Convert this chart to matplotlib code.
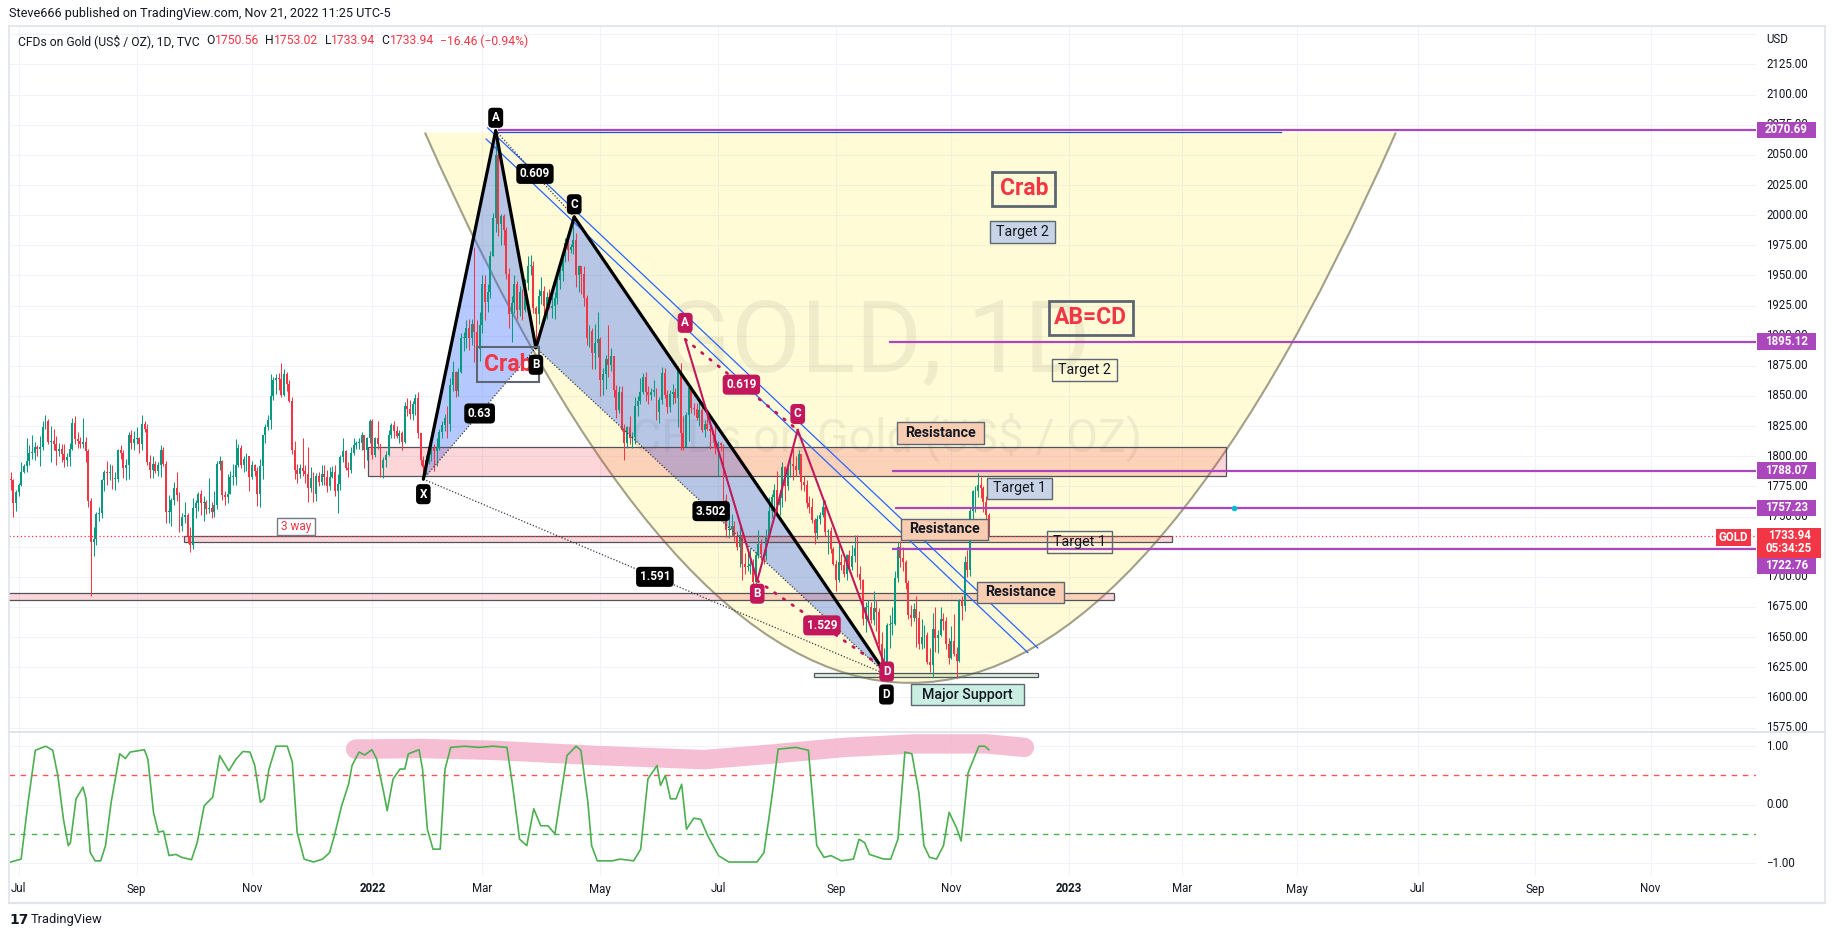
import numpy as np
import pandas as pd
import matplotlib
matplotlib.use("Agg")
import matplotlib.pyplot as plt
from matplotlib.patches import Rectangle, Polygon, PathPatch
from matplotlib.path import Path
from matplotlib.lines import Line2D
from matplotlib.transforms import blended_transform_factory as blend

# ------------------------------------------------------------------ data
# daily bars, 2021-06-28 .. 2022-11-21 (weekdays); bar index 0 = 2021-07-01
first_open = 1781.0
close = [
    1780, 1761, 1770,
    1776, 1787, 1792, 1796, 1803, 1803, 1808, 1806, 1808, 1824, 1829, 1812, 1813, 1810, 1804, 1806, 1802, 1797, 1799, 1806, 1828, 1814,
    1813, 1810, 1812, 1804, 1763, 1729, 1731, 1752, 1753, 1780, 1787, 1786, 1787, 1781, 1781, 1805, 1803, 1790, 1793, 1818, 1811, 1814,
    1815, 1810, 1827, 1823, 1795, 1789, 1794, 1788, 1793, 1805, 1794, 1754, 1754, 1764, 1774, 1768, 1742, 1750, 1751, 1734, 1726, 1757,
    1761, 1769, 1761, 1762, 1756, 1757, 1754, 1760, 1794, 1796, 1768, 1766, 1769, 1783, 1783, 1793, 1807, 1793, 1798, 1800, 1783,
    1793, 1788, 1769, 1792, 1818, 1824, 1830, 1850, 1863, 1865, 1864, 1851, 1868, 1860, 1846, 1805, 1789, 1785, 1790, 1788, 1785, 1774,
    1782, 1769, 1784, 1779, 1785, 1783, 1775, 1783, 1787, 1771, 1777, 1799, 1804, 1790, 1789, 1803, 1809, 1811, 1811, 1818, 1805, 1815, 1829,
    1801, 1815, 1810, 1790, 1797, 1801, 1818, 1826, 1821, 1817, 1819, 1812, 1842, 1839, 1835, 1843, 1848, 1819, 1797, 1791, 1797,
    1801, 1807, 1804, 1807, 1820, 1826, 1832, 1827, 1859, 1870, 1854, 1870, 1898, 1898, 1906, 1898, 1910, 1903, 1889, 1909,
    1943, 1928, 1936, 1966, 1998, 2050, 1993, 1999, 1988, 1951, 1918, 1927, 1943, 1921, 1936, 1921, 1944, 1958, 1958, 1923, 1918, 1933, 1937,
    1925, 1932, 1923, 1925, 1931, 1946, 1954, 1966, 1977, 1971, 1974, 1979, 1950, 1958, 1951, 1931, 1898, 1904, 1886, 1894, 1897,
    1863, 1868, 1881, 1876, 1883, 1855, 1838, 1853, 1822, 1811, 1824, 1815, 1816, 1842, 1846, 1853, 1866, 1853, 1851, 1853, 1855, 1837,
    1847, 1869, 1851, 1841, 1852, 1853, 1848, 1871, 1819, 1808, 1834, 1857, 1840, 1839, 1832, 1838, 1822, 1827, 1823, 1821, 1818, 1807,
    1811, 1809, 1764, 1739, 1740, 1742, 1733, 1725, 1735, 1711, 1708, 1709, 1711, 1696, 1718, 1727, 1719, 1717, 1734, 1755, 1766,
    1772, 1760, 1765, 1791, 1775, 1789, 1794, 1792, 1789, 1802, 1779, 1776, 1761, 1758, 1747, 1736, 1748, 1751, 1758, 1737, 1738, 1723, 1711,
    1697, 1712, 1710, 1702, 1718, 1708, 1717, 1724, 1702, 1697, 1665, 1675, 1675, 1664, 1674, 1671, 1644, 1622, 1629, 1660, 1661, 1661,
    1699, 1725, 1716, 1712, 1695, 1668, 1666, 1673, 1666, 1644, 1650, 1652, 1629, 1627, 1657, 1649, 1652, 1665, 1663, 1644, 1633,
    1647, 1636, 1630, 1681, 1676, 1712, 1706, 1755, 1771, 1771, 1776, 1774, 1762, 1751, 1733.94,
]
high = [
    1787, 1781, 1772,
    1778, 1795, 1794, 1815, 1809, 1818, 1812, 1809, 1817, 1829, 1834, 1831, 1825, 1823, 1817, 1811, 1810, 1810, 1803, 1811, 1832, 1833,
    1820, 1816, 1832, 1816, 1806, 1765, 1741, 1754, 1758, 1781, 1789, 1796, 1794, 1793, 1787, 1806, 1809, 1805, 1798, 1820, 1822, 1821,
    1824, 1816, 1834, 1829, 1827, 1801, 1800, 1796, 1795, 1809, 1808, 1796, 1768, 1765, 1779, 1787, 1770, 1753, 1762, 1753, 1741, 1765,
    1764, 1770, 1772, 1767, 1764, 1782, 1762, 1771, 1796, 1800, 1797, 1771, 1785, 1788, 1794, 1814, 1810, 1809, 1800, 1803, 1800,
    1796, 1794, 1791, 1798, 1818, 1827, 1834, 1868, 1866, 1868, 1869, 1877, 1872, 1870, 1863, 1849, 1813, 1794, 1794, 1815, 1793, 1808,
    1791, 1787, 1786, 1787, 1793, 1793, 1789, 1791, 1792, 1793, 1785, 1801, 1815, 1805, 1795, 1808, 1815, 1813, 1815, 1820, 1812, 1816, 1831,
    1831, 1816, 1829, 1810, 1799, 1804, 1822, 1828, 1829, 1825, 1822, 1821, 1845, 1848, 1847, 1846, 1852, 1853, 1818, 1800, 1801,
    1807, 1810, 1810, 1815, 1823, 1829, 1835, 1842, 1865, 1879, 1871, 1873, 1902, 1903, 1913, 1914, 1914, 1974, 1913, 1920,
    1950, 1950, 1943, 1970, 2002, 2070, 2056, 2001, 2001, 1990, 1956, 1933, 1950, 1945, 1941, 1939, 1947, 1966, 1967, 1962, 1925, 1939, 1949,
    1941, 1936, 1939, 1934, 1936, 1949, 1956, 1970, 1981, 1979, 1976, 1998, 1985, 1959, 1957, 1958, 1934, 1909, 1906, 1910, 1920,
    1899, 1873, 1884, 1909, 1890, 1883, 1859, 1858, 1858, 1827, 1825, 1833, 1820, 1849, 1850, 1865, 1869, 1870, 1858, 1857, 1863, 1857,
    1849, 1874, 1873, 1855, 1855, 1860, 1857, 1875, 1877, 1833, 1837, 1858, 1858, 1844, 1844, 1847, 1845, 1830, 1834, 1829, 1822, 1829,
    1813, 1812, 1810, 1769, 1752, 1752, 1746, 1738, 1745, 1737, 1720, 1723, 1724, 1715, 1721, 1739, 1731, 1723, 1740, 1766, 1769,
    1777, 1788, 1772, 1795, 1792, 1791, 1800, 1807, 1800, 1805, 1801, 1784, 1780, 1767, 1765, 1749, 1751, 1754, 1765, 1764, 1740, 1741, 1725,
    1714, 1727, 1719, 1715, 1719, 1722, 1726, 1735, 1735, 1709, 1698, 1679, 1681, 1679, 1688, 1681, 1674, 1654, 1641, 1662, 1668, 1675,
    1705, 1729, 1730, 1725, 1714, 1697, 1677, 1678, 1684, 1672, 1665, 1660, 1654, 1641, 1670, 1675, 1656, 1675, 1670, 1667, 1649,
    1659, 1669, 1642, 1682, 1684, 1717, 1722, 1758, 1772, 1775, 1786, 1783, 1775, 1767, 1753.02,
]
low = [
    1772, 1750, 1755,
    1767, 1775, 1786, 1787, 1793, 1798, 1797, 1800, 1792, 1805, 1823, 1810, 1795, 1805, 1793, 1800, 1795, 1791, 1792, 1792, 1805, 1810,
    1807, 1807, 1807, 1795, 1758, 1684, 1717, 1726, 1746, 1749, 1771, 1776, 1780, 1773, 1772, 1779, 1798, 1782, 1780, 1781, 1806, 1805,
    1810, 1803, 1805, 1820, 1793, 1782, 1782, 1786, 1784, 1783, 1792, 1745, 1745, 1742, 1760, 1763, 1737, 1738, 1745, 1728, 1721, 1723,
    1749, 1755, 1751, 1746, 1752, 1753, 1749, 1750, 1756, 1789, 1764, 1760, 1761, 1769, 1776, 1776, 1791, 1790, 1787, 1788, 1771,
    1781, 1784, 1759, 1758, 1781, 1811, 1822, 1823, 1847, 1852, 1855, 1849, 1850, 1854, 1845, 1802, 1781, 1778, 1782, 1784, 1778, 1762,
    1770, 1762, 1763, 1775, 1776, 1776, 1770, 1772, 1782, 1767, 1753, 1772, 1795, 1789, 1783, 1786, 1801, 1806, 1806, 1805, 1790, 1797, 1811,
    1798, 1799, 1806, 1783, 1782, 1791, 1800, 1815, 1815, 1815, 1811, 1805, 1811, 1833, 1831, 1830, 1834, 1815, 1793, 1780, 1785,
    1794, 1796, 1788, 1792, 1805, 1815, 1821, 1815, 1821, 1854, 1849, 1850, 1869, 1887, 1890, 1888, 1892, 1878, 1878, 1879,
    1902, 1913, 1920, 1931, 1970, 1986, 1983, 1975, 1975, 1947, 1906, 1895, 1919, 1914, 1916, 1913, 1920, 1938, 1950, 1919, 1890, 1910, 1926,
    1918, 1914, 1922, 1915, 1914, 1926, 1939, 1945, 1961, 1962, 1969, 1968, 1940, 1936, 1935, 1925, 1892, 1891, 1872, 1872, 1882,
    1850, 1851, 1856, 1866, 1871, 1849, 1832, 1836, 1821, 1797, 1807, 1810, 1807, 1810, 1833, 1843, 1852, 1846, 1843, 1847, 1850, 1830,
    1828, 1843, 1848, 1836, 1837, 1843, 1844, 1824, 1805, 1805, 1808, 1813, 1836, 1834, 1830, 1825, 1820, 1816, 1822, 1806, 1812, 1802,
    1784, 1804, 1763, 1733, 1732, 1734, 1730, 1722, 1708, 1697, 1702, 1705, 1702, 1694, 1681, 1716, 1714, 1711, 1714, 1734, 1749,
    1754, 1754, 1751, 1758, 1763, 1772, 1783, 1780, 1784, 1785, 1772, 1771, 1757, 1753, 1745, 1727, 1731, 1744, 1750, 1734, 1719, 1720, 1710,
    1688, 1696, 1706, 1700, 1697, 1705, 1706, 1712, 1700, 1690, 1660, 1654, 1664, 1662, 1660, 1655, 1639, 1621, 1615, 1614, 1641, 1652,
    1660, 1696, 1708, 1705, 1690, 1665, 1659, 1663, 1642, 1640, 1640, 1641, 1628, 1621, 1617, 1638, 1637, 1651, 1656, 1640, 1628,
    1632, 1634, 1616, 1629, 1664, 1672, 1700, 1701, 1747, 1754, 1766, 1765, 1754, 1747, 1733.94,
]

# oscillator (bar index, value)
osc_points = [
    (-3.0, -0.98), (0.9, -0.93), (3.5, 0.04), (6.2, 0.93), (10.1, 1.0), (12.7, 0.93), (14.6, 0.5),
    (16.7, -0.25), (18.5, -0.7), (19.3, -0.65), (21.4, 0.1), (24.0, 0.3), (25.1, 0.1), (26.7, -0.82),
    (28.5, -0.96), (30.6, -0.96), (32.4, -0.7), (34.5, 0.04), (37.7, 0.87), (39.8, 0.79), (41.6, 0.9),
    (46.9, 0.94), (48.2, 0.78), (50.3, -0.13), (52.1, -0.47), (54.0, -0.45), (56.1, -0.87), (58.7, -0.85),
    (60.8, -0.9), (64.5, -0.94), (66.6, -0.65), (69.2, -0.02), (72.4, 0.13), (75.0, 0.84), (78.4, 0.58),
    (81.1, 0.78), (83.7, 0.91), (86.3, 0.9), (88.1, 0.67), (90.2, 0.04), (91.6, 0.1), (93.4, 0.61),
    (96.0, 1.0), (100.2, 1.0), (102.1, 0.73), (103.9, -0.47), (106.5, -0.93), (110.0, -0.98), (113.4, -0.93),
    (116.0, -0.82), (117.8, -0.53), (120.5, -0.02), (123.1, 0.35), (124.4, 0.67), (127.0, 0.9), (129.1, 0.85),
    (131.8, 0.94), (133.6, 0.78), (136.2, 0.21), (137.5, -0.1), (139.7, 0.44), (142.3, 0.61), (144.1, 0.61),
    (145.4, 0.87), (149.4, 0.94), (150.7, 0.61), (152.5, -0.42), (154.6, -0.76), (157.3, -0.76), (159.1, 0.61),
    (161.2, 0.98), (166.5, 1.0), (171.7, 0.98), (177.0, 1.0), (182.2, 0.98), (184.3, 0.33), (186.9, -0.59),
    (189.6, -0.7), (192.2, -0.07), (194.8, -0.36), (197.5, -0.36), (200.1, -0.5), (201.9, 0.04), (204.6, 0.84),
    (208.0, 1.0), (209.8, 0.93), (212.4, 0.04), (213.8, -0.7), (215.9, -0.96), (221.6, -0.96), (224.3, -0.93),
    (229.5, -0.96), (232.1, -0.76), (234.8, 0.44), (238.2, 0.67), (239.5, 0.33), (241.3, 0.5), (243.2, 0.1),
    (245.3, 0.1), (247.4, 0.35), (249.2, -0.42), (251.9, -0.23), (254.5, -0.25), (257.1, -0.53), (261.1, -0.87),
    (265.0, -0.98), (275.5, -0.98), (278.1, -0.82), (280.8, 0.04), (283.4, 0.95), (290.0, 0.98), (294.7, 0.93),
    (297.8, -0.7), (300.5, -0.9), (303.1, -0.87), (307.0, -0.96), (311.5, -0.93), (313.6, -0.59), (315.7, -0.65),
    (317.5, -0.85), (322.8, -0.93), (325.4, -0.93), (328.1, -0.59), (330.7, 0.9), (333.3, 0.87), (335.9, 0.21),
    (337.8, -0.7), (339.9, -0.9), (342.5, -0.93), (345.1, -0.7), (347.2, -0.13), (349.9, -0.39), (351.7, -0.62),
    (354.3, 0.55), (358.3, 1.0), (360.5, 1.0), (362.0, 0.94),
]
brush_x = [125.7, 150.7, 177.0, 216.4, 255.7, 282.0, 308.3, 334.6, 361.0, 375.3]
brush_v = [0.95, 0.96, 0.93, 0.84, 0.77, 0.87, 0.98, 1.04, 1.04, 0.98]

# harmonic XABCD (bar index, price)
harm_lbl = ['X', 'A', 'B', 'C', 'D']
harm_x = [151.0, 178.0, 193.0, 207.3, 323.8]
harm_p = [1781.0, 2070.0, 1890.0, 1998.5, 1619.0]
harm_ratio = ['0.63', '0.609', '3.502', '1.591']      # on X-B, A-C, B-D, X-D
# AB=CD pattern
abcd_lbl = ['A', 'B', 'C', 'D']
abcd_x = [248.7, 275.6, 290.7, 323.9]
abcd_p = [1897.0, 1696.8, 1821.8, 1622.7]
abcd_ratio = ['0.619', '1.529']                          # on A-C, B-D
# parabolic arc: start, control, end
arc_x = [151.6, 332.75, 513.9]
arc_p = [2068.5, 1155.5, 2068.5]
# parallel channel lines
chan_x = [[175.0, 380.3], [174.4, 376.6]]
chan_p = [[2072.4, 1641.0], [2063.2, 1637.1]]
top_line_x = [178.0, 470.9]
top_line_p = 2068.6
# horizontal rays with price labels
levels = [2070.69, 1895.12, 1788.07, 1757.23, 1722.76]
level_start = [179.0, 324.7, 326.0, 326.9, 326.0]
level_tag_p = [2070.69, 1895.12, 1788.07, 1757.23, 1709.0]   # where the scale tag sits
# zones
zone_x0 = [130.5, 61.7, -10.0, 296.9]
zone_x1 = [450.4, 430.2, 408.9, 380.2]
zone_top = [1807.4, 1733.9, 1686.4, 1620.0]
zone_bot = [1783.6, 1728.6, 1681.0, 1616.8]
last_price = 1733.94

# ------------------------------------------------------------------ figure
plt.rcParams['font.family'] = ['Roboto', 'DejaVu Sans']
W, H, DPI = 1834, 939, 100
fig = plt.figure(figsize=(W / DPI, H / DPI), dpi=DPI, facecolor='white')
PL, PR, PT, PB, OB = 9, 1756, 26, 732, 875
XMIN, XMAX = -3.62, 648.3
YMIN, YMAX = 1571.3, 2156.9
OMIN, OMAX = -1.202, 1.243
ax = fig.add_axes([PL / W, 1 - PB / H, (PR - PL) / W, (PB - PT) / H])
ax2 = fig.add_axes([PL / W, 1 - OB / H, (PR - PL) / W, (OB - PB) / H])
for a in (ax, ax2):
    a.set_axis_off()
    a.set_xlim(XMIN, XMAX)
ax.set_ylim(YMIN, YMAX)
ax2.set_ylim(OMIN, OMAX)
SX = (PR - PL) / (XMAX - XMIN)
SY = (PB - PT) / (YMAX - YMIN)
DARK = '#131722'
RED = '#f23645'
GREEN = '#089981'
PURPLE = '#ab47bc'
PINK = '#c2185b'

# time ticks
dates = pd.bdate_range('2021-06-28', '2023-12-29')
bidx = np.arange(len(dates)) - 3
ym = dates.strftime('%Y-%m')
tick_keys = ['2021-07', '2021-09', '2021-11', '2022-01', '2022-03', '2022-05', '2022-07', '2022-09',
             '2022-11', '2023-01', '2023-03', '2023-05', '2023-07', '2023-09', '2023-11']
tick_labels = ['Jul', 'Sep', 'Nov', '2022', 'Mar', 'May', 'Jul', 'Sep', 'Nov', '2023', 'Mar', 'May', 'Jul', 'Sep', 'Nov']
tick_idx = [bidx[np.argmax(ym == k)] for k in tick_keys]

# grid
for p in np.arange(1575, 2151, 25):
    ax.axhline(p, color='#f0f3fa', lw=0.8, zorder=0.1)
for t in tick_idx:
    ax.axvline(t, color='#f0f3fa', lw=0.8, zorder=0.1)
    ax2.axvline(t, color='#f0f3fa', lw=0.8, zorder=0.1)
for v in (1, 0, -1):
    ax2.axhline(v, color='#f0f3fa', lw=0.8, zorder=0.1)

# watermark
ax.text(320.0, 1893.0, 'GOLD, 1D', ha='center', va='center', fontsize=73, color=(0, 0, 0, 0.07), zorder=0.5)
ax.text(324.0, 1815.5, 'CFDs on Gold (US$ / OZ)', ha='center', va='center', fontsize=33.5, color=(0, 0, 0, 0.07),
        zorder=0.5)

# arc
arc_v = [(arc_x[i], arc_p[i]) for i in range(3)]
ax.add_patch(PathPatch(Path(arc_v + [arc_v[0]], [Path.MOVETO, Path.CURVE3, Path.CURVE3, Path.CLOSEPOLY]),
                       fc=(1, 0.92, 0.23, 0.2), ec='none', zorder=1))
ax.add_patch(PathPatch(Path(arc_v, [Path.MOVETO, Path.CURVE3, Path.CURVE3]),
                       fc='none', ec='#a3a088', lw=1.5, zorder=1.2))

# harmonic fills
hp = list(zip(harm_x, harm_p))
blue_fill = (41 / 255, 98 / 255, 1.0, 0.34)
ax.add_patch(Polygon([hp[0], hp[1], hp[2]], closed=True, fc=blue_fill, ec='none', zorder=1.5))
ax.add_patch(Polygon([hp[2], hp[3], hp[4]], closed=True, fc=blue_fill, ec='none', zorder=1.5))

# zones
zfc = [(242 / 255, 54 / 255, 69 / 255, 0.2)] * 3 + [(76 / 255, 175 / 255, 80 / 255, 0.2)]
for i in range(4):
    ax.add_patch(Rectangle((zone_x0[i], zone_bot[i]), zone_x1[i] - zone_x0[i], zone_top[i] - zone_bot[i],
                           fc=zfc[i], ec='#50535e', lw=0.9, zorder=2))

# candles
c = np.array(close, float)
o = np.r_[first_open, c[:-1]]
hi = np.maximum(np.array(high, float), np.maximum(o, c))
lo = np.minimum(np.array(low, float), np.minimum(o, c))
x = np.arange(len(c)) - 3
col = np.where(c >= o, GREEN, RED)
ax.vlines(x, lo, hi, colors=col, lw=0.75, zorder=3)
ax.bar(x, np.maximum(np.abs(c - o), 0.6), bottom=np.minimum(o, c), width=0.72, color=col, lw=0, zorder=3.1)

# current price line
ax.axhline(last_price, color=RED, lw=0.9, ls=(0, (1, 2)), zorder=3.5)

# rays
for lv, st in zip(levels, level_start):
    ax.plot([st, XMAX], [lv, lv], color=PURPLE, lw=1.6, zorder=4, solid_capstyle='butt')
ax.plot(top_line_x, [top_line_p, top_line_p], color='#1f4fc9', lw=0.9, zorder=4)
for cx, cp in zip(chan_x, chan_p):
    ax.plot(cx, cp, color='#2962ff', lw=0.9, zorder=4)

# harmonic lines
for i in range(4):
    ax.plot([harm_x[i], harm_x[i + 1]], [harm_p[i], harm_p[i + 1]], color='black', lw=2.3, zorder=5,
            solid_capstyle='round')
dot_pairs = [(0, 2), (1, 3), (2, 4), (0, 4)]
for (a_, b_), r in zip(dot_pairs, harm_ratio):
    ax.plot([harm_x[a_], harm_x[b_]], [harm_p[a_], harm_p[b_]], color='#3a3a3a', lw=0.9, ls=(0, (1, 1.5)), zorder=4.5)
    ax.text((harm_x[a_] + harm_x[b_]) / 2, (harm_p[a_] + harm_p[b_]) / 2, r, ha='center', va='center',
            color='white', fontweight='bold', fontsize=8.5, zorder=7,
            bbox=dict(boxstyle='round,pad=0.3,rounding_size=0.35', fc='black', ec='none'))

# AB=CD lines
for i in range(3):
    ax.plot([abcd_x[i], abcd_x[i + 1]], [abcd_p[i], abcd_p[i + 1]], color=PINK, lw=1.5, zorder=5)
for (a_, b_), r in zip([(0, 2), (1, 3)], abcd_ratio):
    ax.plot([abcd_x[a_], abcd_x[b_]], [abcd_p[a_], abcd_p[b_]], color=PINK, lw=2.0, ls=(0, (0.6, 3.2)),
            dash_capstyle='round', zorder=4.6)
    ax.text((abcd_x[a_] + abcd_x[b_]) / 2, (abcd_p[a_] + abcd_p[b_]) / 2, r, ha='center', va='center',
            color='white', fontweight='bold', fontsize=8.5, zorder=7,
            bbox=dict(boxstyle='round,pad=0.3,rounding_size=0.35', fc=PINK, ec='none'))


def note(xc, yc, s, w, h, fc, ec, lw, color, fs, weight='normal', z=6):
    ax.add_patch(Rectangle((xc - w / 2 / SX, yc - h / 2 / SY), w / SX, h / SY, fc=fc, ec=ec, lw=lw, zorder=z))
    ax.text(xc, yc, s, ha='center', va='center', color=color, fontsize=fs, fontweight=weight, zorder=z + 0.5)


GRAYE = '#5d6673'
note(182.6, 1876.0, 'Crab', 62, 35, 'none', GRAYE, 1.5, RED, 16.5, 'bold', z=6)
note(103.5, 1741.9, '3 way', 38, 17, 'white', '#787b86', 1.0, RED, 8.5)
note(375.1, 2021.7, 'Crab', 63, 34, 'none', GRAYE, 2.0, RED, 16.5, 'bold')
note(400.1, 1914.9, 'AB=CD', 84, 34, 'none', GRAYE, 2.0, RED, 16.5, 'bold')
note(374.7, 1985.8, 'Target 2', 65, 22, '#c8d4e6', GRAYE, 1.0, DARK, 10.3)
note(397.8, 1871.3, 'Target 2', 65, 22, 'none', GRAYE, 1.0, DARK, 10.3)
note(343.8, 1818.9, 'Resistance', 87, 22, '#f9cdb2', GRAYE, 1.0, DARK, 10.3, 'bold')
note(373.5, 1773.5, 'Target 1', 65, 21, '#c8d4e6', GRAYE, 1.0, DARK, 10.3)
note(345.5, 1739.3, 'Resistance', 87, 21, '#f9cdb2', GRAYE, 1.0, DARK, 10.3, 'bold')
note(395.9, 1728.5, 'Target 1', 65, 22, 'none', GRAYE, 1.0, DARK, 10.3)
note(374.0, 1687.3, 'Resistance', 87, 21, '#f9cdb2', GRAYE, 1.0, DARK, 10.3, 'bold')
note(353.9, 1602.4, 'Major Support', 113, 21, '#cbeee3', GRAYE, 1.0, DARK, 10.3, 'medium')


# point labels
def tag(xv, yv, s, fc, dy_px):
    ax.annotate(s, (xv, yv), xytext=(0, dy_px / 1.389), textcoords='offset points', ha='center', va='center',
                color='white', fontweight='bold', fontsize=8.5, zorder=8, annotation_clip=False,
                bbox=dict(boxstyle='round,pad=0.3,rounding_size=0.35', fc=fc, ec='none'))


for s, xv, yv, dy in zip(abcd_lbl, abcd_x, abcd_p, [16.5, -13, 16, -1.5]):
    tag(xv, yv, s, PINK, dy)
for s, xv, yv, dy in zip(harm_lbl, harm_x, harm_p, [-15, 13, -17, 12.7, -20]):
    tag(xv, yv, s, 'black', dy)

ax.plot([453.5], [1757.5], 'o', ms=3, color='#00bcd4', zorder=6)

# right price scale
tr = blend(ax.transAxes, ax.transData)
AXL = (1766 - PL) / (PR - PL)
for p in range(1575, 2126, 25):
    ax.text(AXL, p, f'{p:.2f}', transform=tr, ha='left', va='center', fontsize=8.3, color=DARK, clip_on=False, zorder=7)
ax.text(AXL, 2145.3, 'USD', transform=tr, ha='left', va='center', fontsize=8.3, color=DARK, clip_on=False)
BW = 59 / (PR - PL)
for lv in level_tag_p:
    ax.add_patch(Rectangle((1.0006, lv - 8.2 / SY), BW, 16.4 / SY, transform=tr, fc=PURPLE, ec='none',
                           clip_on=False, zorder=9))
ax.add_patch(Rectangle((1.0006, last_price - 22 / SY), 64 / (PR - PL), 30 / SY, transform=tr, fc=RED, ec='none',
                       clip_on=False, zorder=9.5))
for lv, lt in zip(levels, level_tag_p):
    ax.text(1.0006 + BW / 2, lt, f'{lv:.2f}', transform=tr, ha='center', va='center', color='white',
            fontweight='bold', fontsize=8.3, clip_on=False, zorder=10)
ax.text(1.0006 + 32 / (PR - PL), last_price + 0.5 / SY, f'{last_price:.2f}', transform=tr, ha='center',
        va='center', color='white', fontweight='bold', fontsize=8.3, clip_on=False, zorder=10)
ax.text(1.0006 + 32 / (PR - PL), last_price - 13 / SY, '05:34:25', transform=tr, ha='center', va='center',
        color='white', fontweight='bold', fontsize=8.3, clip_on=False, zorder=10)
gx0 = (1716 - PL) / (PR - PL)
ax.add_patch(Rectangle((gx0, last_price - 9.6 / SY), 35 / (PR - PL), 16.3 / SY, transform=tr, fc=RED, ec='none',
                       clip_on=False, zorder=9))
ax.text(gx0 + 17.5 / (PR - PL), last_price - 1.4 / SY, 'GOLD', transform=tr, ha='center', va='center', color='white',
        fontweight='bold', fontsize=8.3, clip_on=False, zorder=10)

# oscillator pane
ax2.plot(brush_x, brush_v, color='#f5b3ca', lw=14, alpha=0.85, solid_capstyle='round', solid_joinstyle='round',
         zorder=1)
ax2.axhline(0.5, color='#ff5252', lw=1.0, ls=(0, (4, 4)), zorder=2)
ax2.axhline(-0.5, color='#4caf50', lw=1.0, ls=(0, (4, 4)), zorder=2)
ox = [pt[0] for pt in osc_points]
ov = [pt[1] for pt in osc_points]
ax2.plot(ox, ov, color='#4caf50', lw=1.2, zorder=3)
tr2 = blend(ax2.transAxes, ax2.transData)
for v, s in [(1, '1.00'), (0, '0.00'), (-1, '\u22121.00')]:
    ax2.text(AXL, v, s, transform=tr2, ha='left', va='center', fontsize=8.3, color=DARK, clip_on=False)

# time labels
trx = blend(ax2.transData, ax2.transAxes)
ylab = -(889 - OB) / (OB - PB)
for t, s in zip(tick_idx, tick_labels):
    bold = s.isdigit()
    ax2.text(t, ylab, s, transform=trx, ha='center', va='center', fontsize=8.3, color=DARK,
             fontweight='bold' if bold else 'normal', clip_on=False)


# frame
def fl(x0, y0, x1, y1, color='#e0e3eb', lw=1.2):
    fig.add_artist(Line2D([x0 / W, x1 / W], [1 - y0 / H, 1 - y1 / H], color=color, lw=lw))


fl(9, 26, 1825, 26)
fl(9, 903, 1825, 903, lw=1.6)
fl(9, 26, 9, 903)
fl(1825, 26, 1825, 903)
fl(9, 732, 1825, 732, lw=1.4)

# header texts
fig.text(9 / W, 1 - 13 / H, 'Steve666 published on TradingView.com, Nov 21, 2022 11:25 UTC-5', ha='left', va='center',
         fontsize=9.1, color=DARK)
prev = fig.text(18 / W, 1 - 41 / H, 'CFDs on Gold (US$ / OZ), 1D, TVC', ha='left', va='center', fontsize=8.7,
                color=DARK)
segs = [('O', DARK, 5), ('1750.56', RED, 0), ('H', DARK, 4.5), ('1753.02', RED, 0), ('L', DARK, 4.5),
        ('1733.94', RED, 0), ('C', DARK, 4.5), ('1733.94', RED, 0), ('\u221216.46 (\u22120.94%)', RED, 4.5)]
for s, cl, gap in segs:
    prev = ax.annotate(s, xy=(1, 0.5), xycoords=prev, xytext=(gap, 0), textcoords='offset points', ha='left',
                       va='center', fontsize=8.7, color=cl, annotation_clip=False, zorder=10)

# TradingView logo
fig.text(9 / W, 1 - 920 / H, '17', ha='left', va='center', fontsize=10, fontweight='heavy', color=DARK,
         family='DejaVu Sans')
fig.text(31 / W, 1 - 920 / H, 'TradingView', ha='left', va='center', fontsize=9.3, color=DARK)

fig.savefig('out.png', dpi=DPI, facecolor='white')
